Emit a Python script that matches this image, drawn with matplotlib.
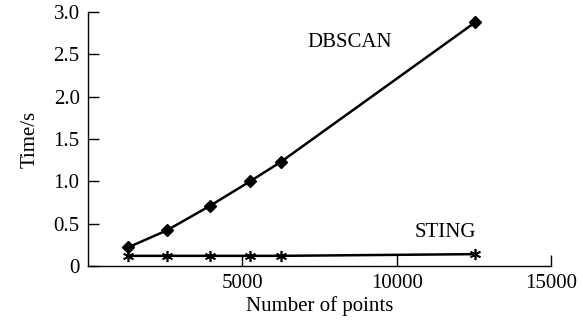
import matplotlib
matplotlib.use("Agg")
import matplotlib.pyplot as plt

n_points = [1300, 2550, 3950, 5250, 6250, 12550]
dbscan = [0.22, 0.42, 0.71, 1.00, 1.23, 2.88]
sting = [0.12, 0.12, 0.12, 0.12, 0.12, 0.14]
xticks = [5000, 10000, 15000]
yticks = [0, 0.5, 1.0, 1.5, 2.0, 2.5, 3.0]
yticklabels = ["0", "0.5", "1.0", "1.5", "2.0", "2.5", "3.0"]

plt.rcParams['font.family'] = ['Liberation Serif', 'DejaVu Serif']
plt.rcParams['font.size'] = 15

fig = plt.figure(figsize=(5.83, 3.21), dpi=100)
ax = fig.add_axes([88/583, 1-266/321, (551-88)/583, (266-12)/321])

ax.plot(n_points, dbscan, color='black', lw=1.8, marker='D', ms=6.5, clip_on=False)
ax.plot(n_points, sting, color='black', lw=1.8, marker=(6, 2, 0), ms=8, mew=1.2, clip_on=False)

ax.annotate('DBSCAN', xy=(0.566, 0.878), xycoords='axes fraction', ha='center', va='center')
ax.annotate('STING', xy=(0.771, 0.13), xycoords='axes fraction', ha='center', va='center')

ax.set_xlim(0, 15000)
ax.set_ylim(0, 3.0)
ax.set_xticks(xticks)
ax.set_yticks(yticks)
ax.set_yticklabels(yticklabels)
ax.spines['top'].set_visible(False)
ax.spines['right'].set_visible(False)
for s in ['left', 'bottom']:
    ax.spines[s].set_linewidth(1.0)
ax.tick_params(direction='in', length=8, width=1.0, pad=6)
ax.set_xlabel('Number of points', labelpad=2)
ax.set_ylabel('Time/s', labelpad=10)

fig.savefig('out.png', dpi=100)
